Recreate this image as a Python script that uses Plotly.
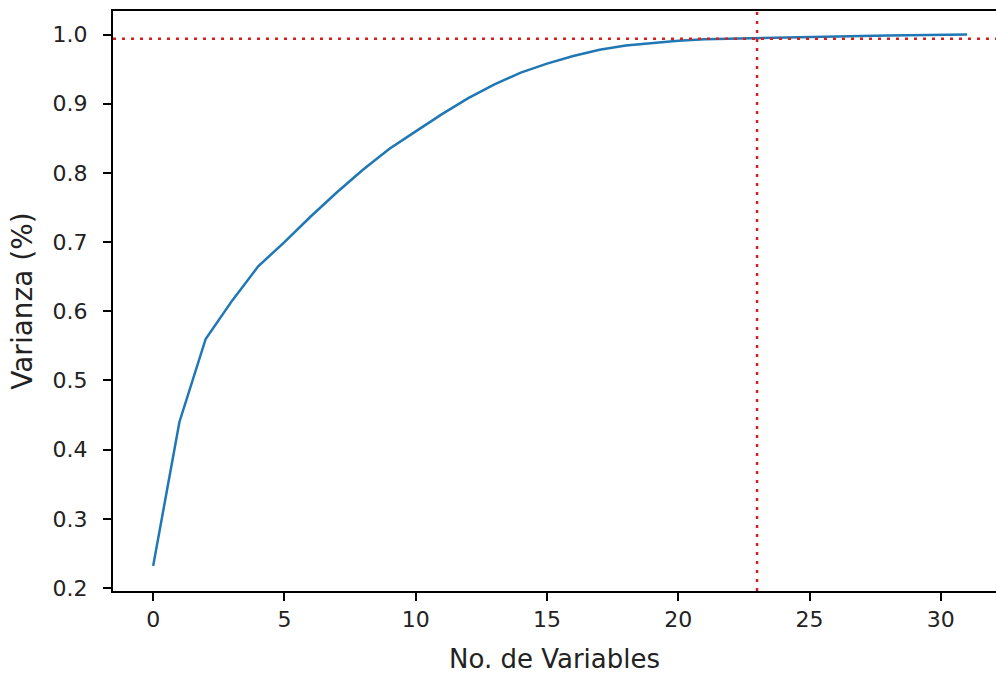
import plotly.graph_objects as go

n_vars = list(range(32))
cum_var = [0.232, 0.44, 0.56, 0.615, 0.665, 0.70, 0.737, 0.772, 0.805, 0.835,
           0.86, 0.885, 0.908, 0.928, 0.945, 0.958, 0.969, 0.978, 0.984, 0.988,
           0.991, 0.993, 0.994, 0.995, 0.996, 0.997, 0.9975, 0.998, 0.9985, 0.999,
           0.9995, 1.0]
threshold_y = 0.994
threshold_x = 23
x_ticks = [0, 5, 10, 15, 20, 25, 30]
y_ticks = [0.2, 0.3, 0.4, 0.5, 0.6, 0.7, 0.8, 0.9, 1.0]

fig = go.Figure()
fig.add_trace(go.Scatter(x=n_vars, y=cum_var, mode="lines",
                         line=dict(color="#1f77b4", width=2.5), showlegend=False))
fig.add_hline(y=threshold_y, line=dict(color="#d62020", width=2.5, dash="3px,6px"))
fig.add_vline(x=threshold_x, line=dict(color="#d62020", width=2.5, dash="3px,6px"))

tick_font = dict(family="DejaVu Sans", size=22, color="#222222")
fig.update_layout(
    width=996, height=674,
    margin=dict(l=113, r=0, t=11, b=83),
    paper_bgcolor="white", plot_bgcolor="white",
    font=tick_font,
)
fig.update_xaxes(range=[-1.53, 32.1], tickvals=x_ticks, ticks="outside", ticklen=8,
                 tickwidth=1.5, tickcolor="black", showline=True, linecolor="black",
                 linewidth=2, mirror=True, showgrid=False, zeroline=False,
                 automargin=False,
                 title=dict(text="No. de Variables", standoff=19,
                            font=dict(family="DejaVu Sans", size=26, color="#222222")),
                 tickfont=tick_font)
fig.update_yaxes(range=[0.1957, 1.034], tickvals=y_ticks, tickformat=".1f",
                 ticks="outside", ticklen=8, tickwidth=1.5, tickcolor="black",
                 showline=True, linecolor="black", linewidth=2, showgrid=False,
                 zeroline=False, automargin=False, ticklabelstandoff=11,
                 title=dict(text="Varianza (%)", standoff=12,
                            font=dict(family="DejaVu Sans", size=28, color="#222222")),
                 tickfont=tick_font)
fig.write_html("out.html", config={"displayModeBar": False},
               post_script="document.body.style.margin='0';document.body.style.overflow='hidden';")
